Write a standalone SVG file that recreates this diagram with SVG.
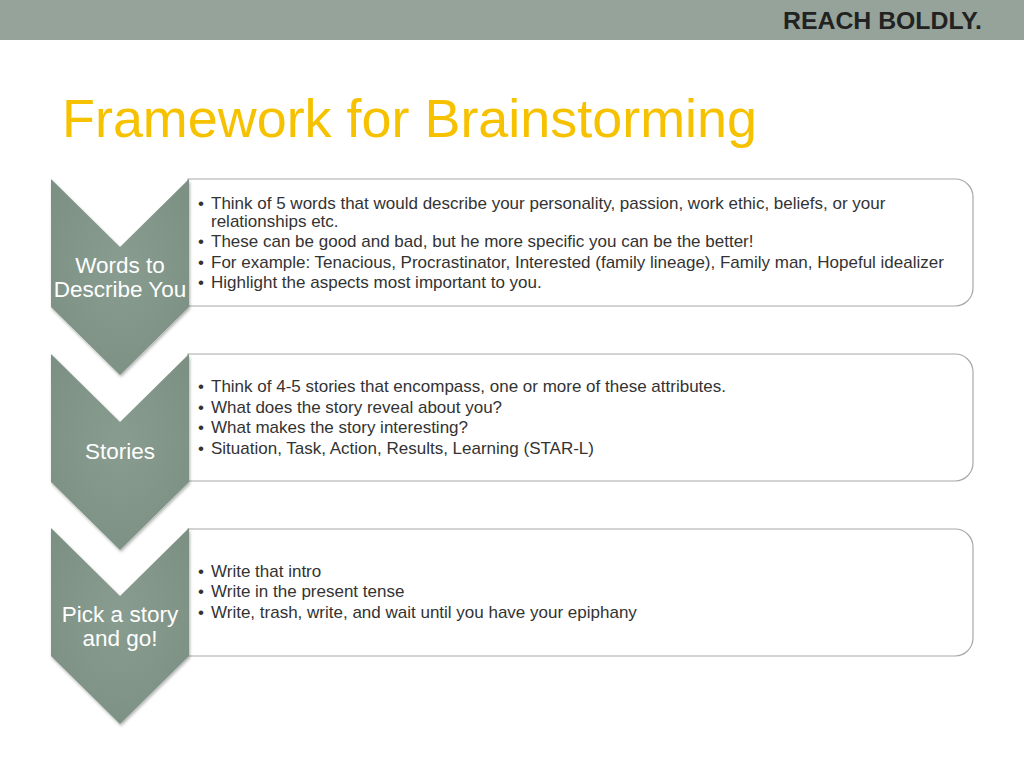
<svg xmlns="http://www.w3.org/2000/svg" width="1024" height="768" viewBox="0 0 1024 768">
<defs>
<radialGradient id="chev" cx="0.5" cy="0.45" r="0.65">
<stop offset="0" stop-color="#899c90"/>
<stop offset="1" stop-color="#7b9083"/>
</radialGradient>
<filter id="sh" x="-20%" y="-20%" width="140%" height="140%">
<feDropShadow dx="1" dy="2" stdDeviation="1.5" flood-color="#000" flood-opacity="0.3"/>
</filter>
</defs>
<style>
.box{fill:#ffffff;stroke:#a8a8a8;stroke-width:1.2}
.chev{fill:url(#chev);filter:url(#sh)}
.lbl{font-family:"Liberation Sans",Arial,sans-serif;font-size:22.5px;fill:#ffffff;text-anchor:middle}
.txt{font-family:"Liberation Sans",Arial,sans-serif;font-size:17px;fill:#333333}
</style>
<rect x="0" y="0" width="1024" height="768" fill="#ffffff"/>
<rect x="0" y="0" width="1024" height="40" fill="#95a39a"/>
<text x="982" y="29" text-anchor="end" font-family="'Liberation Sans Narrow','Liberation Sans',Arial,sans-serif" font-weight="bold" font-size="24" fill="#222222" textLength="199" lengthAdjust="spacingAndGlyphs">REACH BOLDLY.</text>
<text x="62" y="137" font-family="'Liberation Sans',Arial,sans-serif" font-size="54" fill="#f6c200" textLength="695" lengthAdjust="spacingAndGlyphs">Framework for Brainstorming</text>

<g id="node1">
<path class="box" d="M188 179 H955 A18 18 0 0 1 973 197 V288 A18 18 0 0 1 955 306 H188 Z"/>
<path class="chev" d="M51 179 L120 247 L189 179 V307 L120 375 L51 307 Z"/>
<text class="lbl" x="120" y="273">Words to</text>
<text class="lbl" x="120" y="297">Describe You</text>
<text class="txt"><tspan x="198" y="209">•</tspan><tspan x="211" y="209">Think of 5 words that would describe your personality, passion, work ethic, beliefs, or your</tspan><tspan x="211" y="227">relationships etc.</tspan><tspan x="198" y="247">•</tspan><tspan x="211" y="247">These can be good and bad, but he more specific you can be the better!</tspan><tspan x="198" y="268">•</tspan><tspan x="211" y="268">For example: Tenacious, Procrastinator, Interested (family lineage), Family man, Hopeful idealizer</tspan><tspan x="198" y="288">•</tspan><tspan x="211" y="288">Highlight the aspects most important to you.</tspan></text>
</g>

<g id="node2">
<path class="box" d="M188 354 H955 A18 18 0 0 1 973 372 V463 A18 18 0 0 1 955 481 H188 Z"/>
<path class="chev" d="M51 354 L120 422 L189 354 V482 L120 550 L51 482 Z"/>
<text class="lbl" x="120" y="459">Stories</text>
<text class="txt"><tspan x="198" y="392">•</tspan><tspan x="211" y="392">Think of 4-5 stories that encompass, one or more of these attributes.</tspan><tspan x="198" y="413">•</tspan><tspan x="211" y="413">What does the story reveal about you?</tspan><tspan x="198" y="433">•</tspan><tspan x="211" y="433">What makes the story interesting?</tspan><tspan x="198" y="454">•</tspan><tspan x="211" y="454">Situation, Task, Action, Results, Learning (STAR-L)</tspan></text>
</g>

<g id="node3">
<path class="box" d="M188 529 H955 A18 18 0 0 1 973 547 V638 A18 18 0 0 1 955 656 H188 Z"/>
<path class="chev" d="M51 528 L120 596 L189 528 V656 L120 724 L51 656 Z"/>
<text class="lbl" x="120" y="622">Pick a story</text>
<text class="lbl" x="120" y="646">and go!</text>
<text class="txt"><tspan x="198" y="577">•</tspan><tspan x="211" y="577">Write that intro</tspan><tspan x="198" y="597">•</tspan><tspan x="211" y="597">Write in the present tense</tspan><tspan x="198" y="618">•</tspan><tspan x="211" y="618">Write, trash, write, and wait until you have your epiphany</tspan></text>
</g>

<g id="connectors"></g>
</svg>
